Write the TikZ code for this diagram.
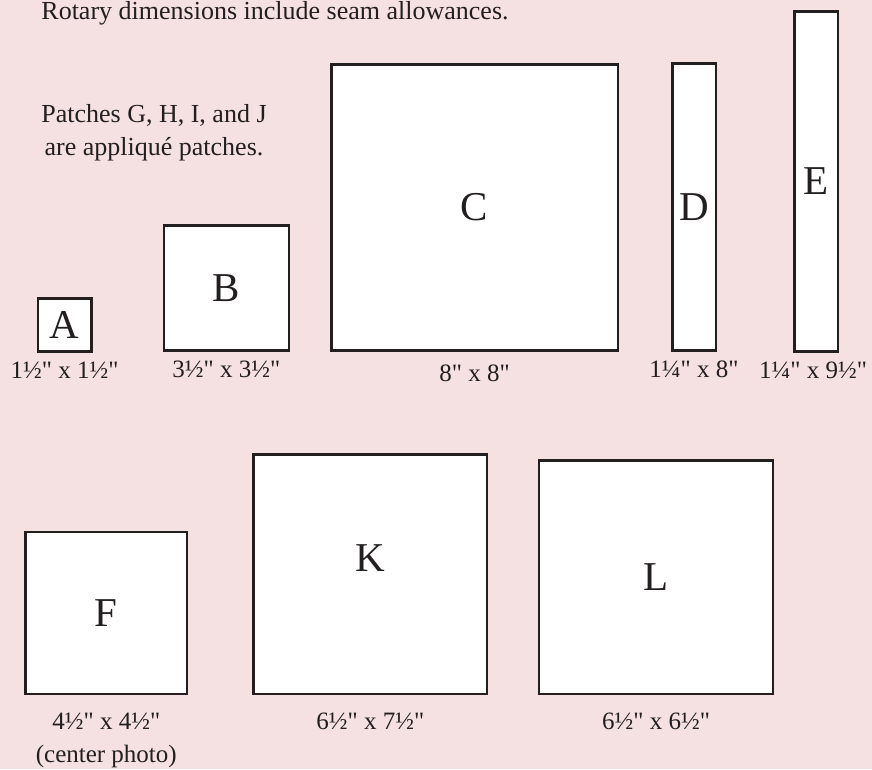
\documentclass[tikz,border=0pt]{standalone}
\usepackage{fontspec}
\setmainfont{Liberation Serif}[Ligatures=TeXOff]
\usetikzlibrary{positioning}
\definecolor{quiltpink}{HTML}{F5E1E1}
\definecolor{inkgray}{HTML}{231F20}

\begin{document}
\begin{tikzpicture}[x=1pt,y=-1pt,
    patch/.style={draw=inkgray, line width=2.5pt, fill=white, inner sep=0pt,
      text=inkgray, font=\fontsize{41}{41}\selectfont},
    dim/.style={inner sep=0pt, outer sep=0pt, align=center, text=inkgray,
      font=\fontsize{25}{33}\selectfont},
    note/.style={inner sep=0pt, align=center, text=inkgray,
      font=\fontsize{26}{33}\selectfont}]
  \useasboundingbox (0,0) rectangle (872,769);
  \clip (0,0) rectangle (872,769);
  \fill[quiltpink] (0,0) rectangle (872,769);

  % notes
  \node[note, anchor=base] (rotary) at (275,19) {Rotary dimensions include seam allowances.};
  \node[note, anchor=north] (applique) at (154,104) {Patches G, H, I, and J\\are appliqué patches.};

  % top row of patches
  \node[patch, minimum width=53.5pt, minimum height=53pt] (A) at (64.7,325) {A};
  \node[patch, minimum width=125pt, minimum height=125pt] (B) at (226.3,288) {B};
  \node[patch, minimum width=286.5pt, minimum height=286pt] (C) at (474.5,207.3) {C};
  \node[patch, minimum width=43.5pt, minimum height=287pt] (D) at (694,206.8) {D};
  \node[patch, minimum width=43.5pt, minimum height=340pt] (E) at (816,181.3) {E};

  \node[dim, below=9pt of A] (dimA) {1½" x 1½"};
  \node[dim, below=9pt of B] (dimB) {3½" x 3½"};
  \node[dim, below=13.5pt of C] (dimC) {8" x 8"};
  \node[dim, below=9pt of D] (dimD) {1¼" x 8"};
  \node[dim, below=9pt of E, xshift=-3pt] (dimE) {1¼" x 9½"};

  % bottom row of patches
  \node[patch, minimum width=161.5pt, minimum height=162pt] (F) at (106.3,612.9) {F};
  \node[patch, minimum width=233.5pt, minimum height=239.5pt,
    label={[text=inkgray, font=\fontsize{41}{41}\selectfont, yshift=16pt]center:K}] (K) at (370.3,574) {};
  \node[patch, minimum width=234pt, minimum height=233.5pt] (L) at (656,577) {L};

  \node[dim, below=18pt of F] (dimF) {4½" x 4½"\\(center photo)};
  \node[dim, below=18pt of K] (dimK) {6½" x 7½"};
  \node[dim, below=18pt of L] (dimL) {6½" x 6½"};
\end{tikzpicture}
\end{document}
